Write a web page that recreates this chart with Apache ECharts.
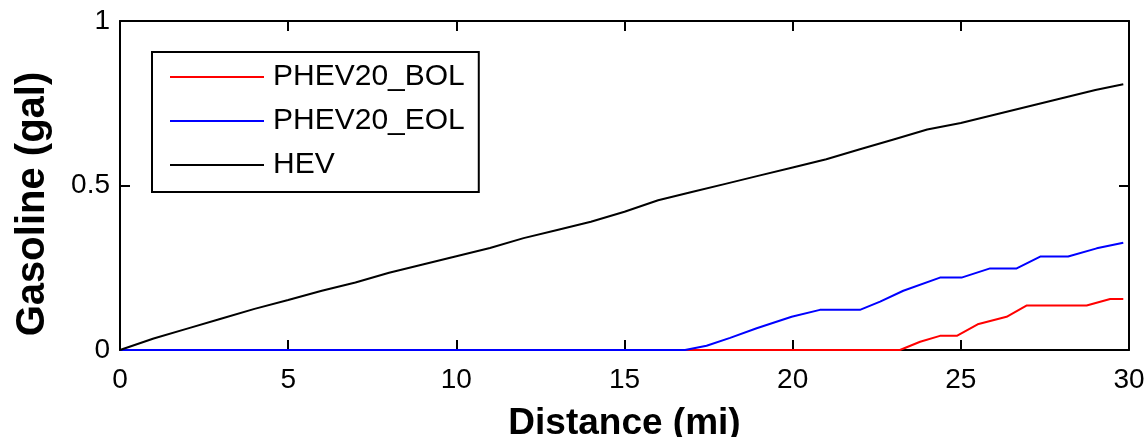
<!DOCTYPE html>
<html>
<head>
<meta charset="utf-8">
<script src="https://cdn.jsdelivr.net/npm/echarts@6/dist/echarts.min.js"></script>
<style>html,body{margin:0;padding:0;background:#fff;}#c{width:1147px;height:437px;}</style>
</head>
<body>
<div id="c"></div>
<script>
const seriesNames = ['PHEV20_BOL', 'PHEV20_EOL', 'HEV'];
const xTicks = [0, 5, 10, 15, 20, 25, 30];
const yTicks = [0, 0.5, 1];
const xTitle = 'Distance (mi)';
const yTitle = 'Gasoline (gal)';

const distBOL = [0, 23.19, 23.79, 24.38, 24.88, 25.5, 26.36, 26.95, 28.74, 29.44, 29.83];
const gasBOL  = [0, 0, 0.025, 0.043, 0.043, 0.078, 0.101, 0.135, 0.135, 0.155, 0.155];

const distEOL = [0, 16.8, 17.44, 18.14, 18.93, 19.97, 20.81, 22.0, 22.6, 23.29, 24.38, 25.02, 25.87, 26.66, 27.36, 28.19, 29.04, 29.83];
const gasEOL  = [0, 0, 0.013, 0.037, 0.066, 0.101, 0.122, 0.122, 0.147, 0.18, 0.22, 0.22, 0.248, 0.248, 0.284, 0.284, 0.309, 0.326];

const distHEV = [0, 1, 2, 3, 4, 5, 6, 7, 8, 9, 10, 11, 12, 13, 14, 15, 16, 17, 18, 19, 20, 21, 22, 23, 24, 25, 26, 27, 28, 29, 29.83];
const gasHEV  = [0, 0.035, 0.065, 0.095, 0.125, 0.152, 0.18, 0.205, 0.235, 0.26, 0.285, 0.31, 0.34, 0.365, 0.39, 0.42, 0.455, 0.48, 0.505, 0.53, 0.555, 0.58, 0.61, 0.64, 0.67, 0.69, 0.715, 0.74, 0.765, 0.79, 0.808];

const colors = ['#ff0000', '#0000ff', '#000000'];
const pairs = (xs, ys) => xs.map((x, i) => [x, ys[i]]);
const seriesData = [pairs(distBOL, gasBOL), pairs(distEOL, gasEOL), pairs(distHEV, gasHEV)];

const FONT = 'Liberation Sans, Arial, sans-serif';
const axisCommon = {
  axisLine: { show: true, onZero: false, lineStyle: { color: '#000', width: 2 } },
  axisTick: { show: true, inside: true, length: 10, lineStyle: { color: '#000', width: 2 } },
  splitLine: { show: false }
};

const chart = echarts.init(document.getElementById('c'));
chart.setOption({
  animation: false,
  backgroundColor: '#fff',
  grid: { left: 120, right: 18, top: 21, bottom: 87, containLabel: false, outerBoundsMode: 'none' },
  legend: {
    data: seriesNames.map((n) => ({ name: n, icon: 'rect' })),
    orient: 'vertical',
    left: 152, top: 52,
    itemWidth: 94, itemHeight: 2,
    itemGap: 14,
    padding: [10, 14, 12, 18],
    borderColor: '#000', borderWidth: 2,
    backgroundColor: '#fff',
    textStyle: { color: '#000', fontSize: 30, fontFamily: FONT, padding: [0, 0, 0, 4] }
  },
  graphic: [{
    type: 'text',
    x: 33, y: 204,
    rotation: Math.PI / 2,
    style: {
      text: yTitle, fill: '#000',
      font: 'bold 40px ' + FONT,
      align: 'center', verticalAlign: 'middle'
    }
  }],
  xAxis: [
    Object.assign({
      type: 'value', min: xTicks[0], max: xTicks[xTicks.length - 1], interval: 5, position: 'bottom',
      name: xTitle, nameLocation: 'middle', nameGap: 55,
      nameTextStyle: { color: '#000', fontSize: 37, fontWeight: 'bold', fontFamily: FONT },
      axisLabel: { color: '#000', fontSize: 28, fontFamily: FONT, margin: 16 }
    }, axisCommon),
    Object.assign({
      type: 'value', min: xTicks[0], max: xTicks[xTicks.length - 1], interval: 5, position: 'top',
      axisLabel: { show: false }
    }, axisCommon)
  ],
  yAxis: [
    Object.assign({
      type: 'value', min: yTicks[0], max: yTicks[yTicks.length - 1], interval: 0.5, position: 'left',
      axisLabel: { color: '#000', fontSize: 28, fontFamily: FONT, margin: 10 }
    }, axisCommon),
    Object.assign({
      type: 'value', min: yTicks[0], max: yTicks[yTicks.length - 1], interval: 0.5, position: 'right',
      axisLabel: { show: false }
    }, axisCommon)
  ],
  series: seriesNames.map((n, i) => ({
    name: n, type: 'line', data: seriesData[i], xAxisIndex: 0, yAxisIndex: 0,
    showSymbol: false, symbol: 'none', clip: false,
    itemStyle: { color: colors[i] },
    lineStyle: { color: colors[i], width: 2 },
    z: 2 + i
  }))
});
</script>
</body>
</html>
